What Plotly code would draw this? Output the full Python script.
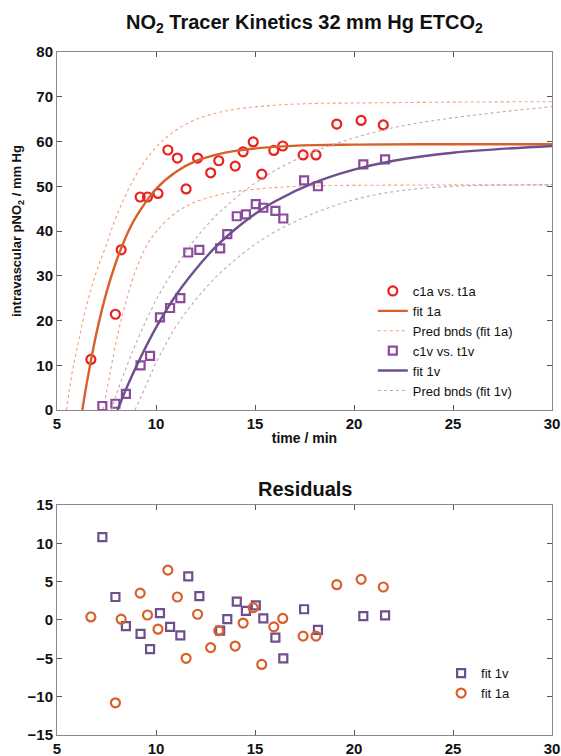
import plotly.graph_objects as go

# ---- data ----
t1a = [6.71, 7.95, 8.24, 9.2, 9.57, 10.1, 10.6, 11.08, 11.52, 12.1, 12.76, 13.17,
       14.0, 14.4, 14.91, 15.34, 15.95, 16.4, 17.43, 18.08, 19.13, 20.36, 21.48]
c1a = [11.3, 21.4, 35.8, 47.6, 47.6, 48.4, 58.1, 56.3, 49.4, 56.3, 53.0, 55.7,
       54.5, 57.7, 59.9, 52.7, 58.0, 59.0, 57.0, 57.0, 63.9, 64.7, 63.7]
r1a = [0.4, -10.8, 0.1, 3.5, 0.65, -1.2, 6.5, 3.0, -5.0, 0.75, -3.6, -1.4,
       -3.4, -0.4, 1.6, -5.8, -0.9, 0.2, -2.1, -2.1, 4.6, 5.3, 4.3]

t1v = [7.29, 7.95, 8.48, 9.22, 9.7, 10.2, 10.71, 11.23, 11.63, 12.19, 13.24,
       13.6, 14.08, 14.54, 15.04, 15.42, 16.03, 16.43, 17.48, 18.18, 20.47, 21.57]
c1v = [0.9, 1.4, 3.6, 10.0, 12.1, 20.7, 22.8, 25.0, 35.2, 35.8, 36.1,
       39.3, 43.3, 43.7, 46.0, 45.2, 44.5, 42.8, 51.3, 50.0, 54.9, 56.0]
r1v = [10.8, 3.0, -0.8, -1.8, -3.8, 0.9, -0.9, -2.0, 5.7, 3.1, -1.4,
       0.1, 2.4, 1.2, 1.9, 0.2, -2.3, -5.0, 1.4, -1.3, 0.5, 0.6]

# fitted curve 1a, read at sample times
fit1a_t = [6.28, 6.5, 7.0, 7.5, 8.0, 8.5, 9.0, 10.0, 11.0, 12.0, 13.0, 14.0, 16.0, 18.0, 20.0, 25.0, 30.0]
fit1a_y = [0.0, 5.9, 17.3, 26.3, 33.3, 38.9, 43.2, 49.4, 53.2, 55.6, 57.0, 57.9, 58.8, 59.2, 59.3, 59.4, 59.4]
up1a_t = [5.48, 5.75, 6.0, 6.5, 7.0, 7.5, 8.0, 9.0, 10.0, 11.0, 12.0, 13.0, 14.0, 16.0, 18.0, 20.0, 25.0, 30.0]
up1a_y = [0.0, 8.0, 13.5, 23.5, 31.0, 37.0, 43.3, 52.6, 58.7, 62.5, 64.9, 66.3, 67.2, 68.1, 68.5, 68.6, 68.8, 68.9]
lo1a_t = [7.33, 7.5, 8.0, 8.5, 9.0, 9.5, 10.0, 11.0, 12.0, 13.0, 14.0, 16.0, 18.0, 20.0, 25.0, 30.0]
lo1a_y = [0.0, 4.0, 15.5, 24.5, 31.5, 36.5, 39.8, 44.1, 46.5, 47.9, 48.8, 49.7, 50.1, 50.2, 50.3, 50.3]

# fitted curve 1v, read at sample times
fit1v_t = [8.06, 8.5, 9.0, 10.0, 11.0, 12.0, 13.0, 14.0, 15.0, 16.0, 18.0, 20.0, 22.0, 25.0, 30.0]
fit1v_y = [0.0, 4.8, 9.7, 18.4, 25.6, 31.4, 36.4, 40.4, 43.8, 46.6, 50.8, 53.7, 55.7, 57.5, 59.0]
up1v_t = [7.76, 8.0, 8.5, 9.0, 10.0, 11.0, 12.0, 13.0, 14.0, 15.0, 16.0, 18.0, 20.0, 22.0, 25.0, 30.0]
up1v_y = [0.0, 3.5, 9.5, 15.0, 24.5, 32.0, 38.3, 43.3, 47.3, 50.7, 53.5, 57.8, 60.8, 63.1, 65.3, 67.8]
lo1v_t = [8.94, 9.5, 10.0, 11.0, 12.0, 13.0, 14.0, 15.0, 16.0, 18.0, 20.0, 22.0, 25.0, 30.0]
lo1v_y = [0.0, 5.5, 10.5, 18.6, 24.6, 29.6, 33.6, 37.0, 39.8, 44.0, 47.0, 48.8, 50.0, 50.3]

x_ticks = [5, 10, 15, 20, 25, 30]
y_ticks_top = [0, 10, 20, 30, 40, 50, 60, 70, 80]
y_ticks_res = [-15, -10, -5, 0, 5, 10, 15]

# ---- styles ----
RED = "#e8231f"
ORANGE = "#d9602a"
PURPLE_M = "#8b4a9c"
PURPLE_L = "#6c4f8c"
BND_A = "#f0a07a"
BND_V = "#c4a6b4"
FONT = "Liberation Sans, Arial, Helvetica, sans-serif"

fig = go.Figure()

fig.add_trace(go.Scatter(x=t1a, y=c1a, mode="markers", name="c1a vs. t1a",
                         marker=dict(symbol="circle-open", size=9, color=RED, line=dict(width=2.2)),
                         xaxis="x", yaxis="y", legend="legend"))
fig.add_trace(go.Scatter(x=fit1a_t, y=fit1a_y, mode="lines", name="fit 1a",
                         line=dict(color=ORANGE, width=2.4, shape="spline"),
                         xaxis="x", yaxis="y", legend="legend"))
fig.add_trace(go.Scatter(x=up1a_t, y=up1a_y, mode="lines", name="Pred bnds (fit 1a)",
                         line=dict(color=BND_A, width=1.1, dash="dot", shape="spline"),
                         legendgroup="b1a", xaxis="x", yaxis="y", legend="legend"))
fig.add_trace(go.Scatter(x=lo1a_t, y=lo1a_y, mode="lines", name="Pred bnds (fit 1a)",
                         line=dict(color=BND_A, width=1.1, dash="dot", shape="spline"),
                         legendgroup="b1a", showlegend=False, xaxis="x", yaxis="y"))
fig.add_trace(go.Scatter(x=t1v, y=c1v, mode="markers", name="c1v vs. t1v",
                         marker=dict(symbol="square-open", size=8, color=PURPLE_M, line=dict(width=2.2)),
                         xaxis="x", yaxis="y", legend="legend"))
fig.add_trace(go.Scatter(x=fit1v_t, y=fit1v_y, mode="lines", name="fit 1v",
                         line=dict(color=PURPLE_L, width=2.4, shape="spline"),
                         xaxis="x", yaxis="y", legend="legend"))
fig.add_trace(go.Scatter(x=up1v_t, y=up1v_y, mode="lines", name="Pred bnds (fit 1v)",
                         line=dict(color=BND_V, width=1.1, dash="dot", shape="spline"),
                         legendgroup="b1v", xaxis="x", yaxis="y", legend="legend"))
fig.add_trace(go.Scatter(x=lo1v_t, y=lo1v_y, mode="lines", name="Pred bnds (fit 1v)",
                         line=dict(color=BND_V, width=1.1, dash="dot", shape="spline"),
                         legendgroup="b1v", showlegend=False, xaxis="x", yaxis="y"))

# residuals
fig.add_trace(go.Scatter(x=t1v, y=r1v, mode="markers", name="fit 1v",
                         marker=dict(symbol="square-open", size=8, color=PURPLE_L, line=dict(width=2.2)),
                         xaxis="x2", yaxis="y2", legend="legend2"))
fig.add_trace(go.Scatter(x=t1a, y=r1a, mode="markers", name="fit 1a",
                         marker=dict(symbol="circle-open", size=9, color=ORANGE, line=dict(width=2.2)),
                         xaxis="x2", yaxis="y2", legend="legend2"))

axis_common = dict(showgrid=False, zeroline=False, showline=True, linecolor="#8a8a8a",
                   linewidth=1, mirror="ticks", ticks="inside", ticklen=5, tickcolor="#555",
                   automargin=False,
                   tickfont=dict(family=FONT, size=15, color="#111", weight="bold"))

fig.update_layout(
    width=561, height=756,
    margin=dict(l=57, r=9, t=52, b=21, autoexpand=False),
    paper_bgcolor="white", plot_bgcolor="white",
    font=dict(family=FONT, color="#111"),
    xaxis=dict(domain=[0, 1], range=[5, 30], tickvals=x_ticks, anchor="y",
               title=dict(text="<b>time / min</b>", font=dict(size=14), standoff=2), **axis_common),
    yaxis=dict(domain=[0.4758, 1], range=[0, 80], tickvals=y_ticks_top, anchor="x",
               title=dict(text="<b>intravascular pNO<sub>2</sub> / mm Hg</b>", font=dict(size=13), standoff=11),
               **axis_common),
    xaxis2=dict(domain=[0, 1], range=[5, 30], tickvals=x_ticks, anchor="y2", **axis_common),
    yaxis2=dict(domain=[0, 0.3368], range=[-15, 15], tickvals=y_ticks_res, anchor="x2", **axis_common),
    legend=dict(x=0.638, y=0.672, xanchor="left", yanchor="top", bgcolor="rgba(0,0,0,0)",
                font=dict(family=FONT, size=13, color="#111"), tracegroupgap=0),
    legend2=dict(x=0.776, y=0.1124, xanchor="left", yanchor="top", bgcolor="rgba(0,0,0,0)",
                 font=dict(family=FONT, size=13, color="#111"), tracegroupgap=0),
    showlegend=True,
    annotations=[
        dict(text="<b>NO<sub>2</sub> Tracer Kinetics 32 mm Hg ETCO<sub>2</sub></b>", xref="paper", yref="paper",
             x=0.5, y=1.0, yshift=14, xanchor="center", yanchor="bottom", showarrow=False,
             font=dict(family=FONT, size=20, color="#111")),
        dict(text="<b>Residuals</b>", xref="paper", yref="paper",
             x=0.5, y=0.3368, yshift=3, xanchor="center", yanchor="bottom", showarrow=False,
             font=dict(family=FONT, size=20, color="#111")),
    ],
)

# remove the page's default body margin so the figure fills the window exactly
fig.write_html("out.html",
               config={"displayModeBar": False},
               post_script="document.body.style.margin='0';document.body.style.overflow='hidden';")
